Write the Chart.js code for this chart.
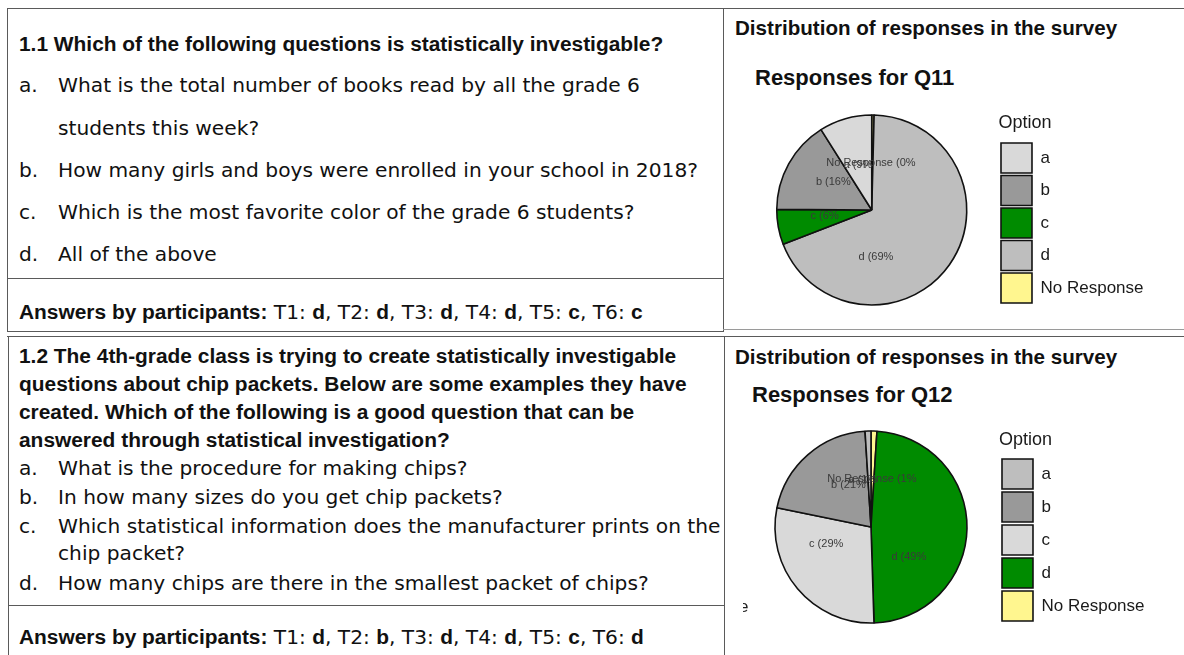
<!DOCTYPE html>
<html>
<head>
<meta charset="utf-8">
<script src="https://cdn.jsdelivr.net/npm/chart.js@4.4.1/dist/chart.umd.min.js"></script>
<style>
  body { margin: 0; width: 1184px; height: 655px; overflow: hidden; background: #fff; position: relative; color: #111; }
  .ln { position: absolute; white-space: nowrap; height: 24px; line-height: 24px; font-family: "DejaVu Sans", sans-serif; font-size: 20.2px; }
  .b { font-family: "Liberation Sans", Arial, sans-serif; font-weight: bold; font-size: 20.9px; }
  .hd { font-family: "Liberation Sans", Arial, sans-serif; font-weight: bold; font-size: 20.6px; }
  .ct { position: absolute; white-space: nowrap; height: 26px; line-height: 26px; font-family: "Liberation Sans", Arial, sans-serif; font-weight: bold; font-size: 22px; color: #111; }
  .r { position: absolute; background: #5a5a5a; }
  canvas { position: absolute; }
  .clip { position: absolute; overflow: hidden; width: 6px; height: 22px; font-family: "Liberation Sans", Arial, sans-serif; font-size: 17px; line-height: 22px; color: #222; }
</style>
</head>
<body>

<!-- table rules -->
<div class="r" style="left:7px;top:8px;width:1177px;height:1px"></div>
<div class="r" style="left:7px;top:8px;width:1px;height:324px"></div>
<div class="r" style="left:723px;top:8px;width:1px;height:324px"></div>
<div class="r" style="left:7px;top:278px;width:717px;height:1px"></div>
<div class="r" style="left:7px;top:331px;width:717px;height:1px"></div>
<div class="r" style="left:723px;top:329px;width:461px;height:1px;background:#9a9a9a"></div>
<div class="r" style="left:7px;top:336px;width:1177px;height:1px"></div>
<div class="r" style="left:8px;top:336px;width:1px;height:319px"></div>
<div class="r" style="left:724px;top:336px;width:1px;height:319px"></div>
<div class="r" style="left:8px;top:605px;width:717px;height:1px"></div>

<!-- question 1.1 -->
<div class="ln b" style="left:19px;top:32px">1.1 Which of the following questions is statistically investigable?</div>
<div class="ln" style="left:19px;top:73px">a.</div>
<div class="ln" style="left:58px;top:73px">What is the total number of books read by all the grade 6</div>
<div class="ln" style="left:58px;top:116px">students this week?</div>
<div class="ln" style="left:19px;top:158px">b.</div>
<div class="ln" style="left:58px;top:158px">How many girls and boys were enrolled in your school in 2018?</div>
<div class="ln" style="left:19px;top:200px">c.</div>
<div class="ln" style="left:58px;top:200px">Which is the most favorite color of the grade 6 students?</div>
<div class="ln" style="left:19px;top:242px">d.</div>
<div class="ln" style="left:58px;top:242px">All of the above</div>
<div class="ln" style="left:19px;top:300px"><span class="b">Answers by participants:</span> T1: <span class="b">d</span>, T2: <span class="b">d</span>, T3: <span class="b">d</span>, T4: <span class="b">d</span>, T5: <span class="b">c</span>, T6: <span class="b">c</span></div>

<!-- question 1.2 -->
<div class="ln b" style="left:19px;top:344px">1.2 The 4th-grade class is trying to create statistically investigable</div>
<div class="ln b" style="left:19px;top:372px">questions about chip packets. Below are some examples they have</div>
<div class="ln b" style="left:19px;top:400px">created. Which of the following is a good question that can be</div>
<div class="ln b" style="left:19px;top:428px">answered through statistical investigation?</div>
<div class="ln" style="left:19px;top:456px">a.</div>
<div class="ln" style="left:58px;top:456px">What is the procedure for making chips?</div>
<div class="ln" style="left:19px;top:485px">b.</div>
<div class="ln" style="left:58px;top:485px">In how many sizes do you get chip packets?</div>
<div class="ln" style="left:19px;top:514px">c.</div>
<div class="ln" style="left:58px;top:514px">Which statistical information does the manufacturer prints on the</div>
<div class="ln" style="left:58px;top:541px">chip packet?</div>
<div class="ln" style="left:19px;top:571px">d.</div>
<div class="ln" style="left:58px;top:571px">How many chips are there in the smallest packet of chips?</div>
<div class="ln" style="left:19px;top:625px"><span class="b">Answers by participants:</span> T1: <span class="b">d</span>, T2: <span class="b">b</span>, T3: <span class="b">d</span>, T4: <span class="b">d</span>, T5: <span class="b">c</span>, T6: <span class="b">d</span></div>

<!-- right column -->
<div class="ln hd" style="left:735px;top:16px">Distribution of responses in the survey</div>
<div class="ct" style="left:755px;top:65px">Responses for Q11</div>
<canvas id="q11" width="439" height="220" style="left:745px;top:100px;width:439px;height:220px"></canvas>

<div class="ln hd" style="left:735px;top:345px">Distribution of responses in the survey</div>
<div class="ct" style="left:752px;top:382px">Responses for Q12</div>
<canvas id="q12" width="441" height="220" style="left:743px;top:417px;width:441px;height:220px"></canvas>
<div class="clip" style="left:743px;top:596px"><span style="position:relative;left:-4px">e</span></div>

<script>
const optionLabels = ['a', 'b', 'c', 'd', 'No Response'];

// share of responses per option (percent)
const q11Percent = [9, 16, 6, 69, 0.4];
const q12Percent = [1, 21, 29, 49, 1];

const q11Colors = ['#D9D9D9', '#999999', '#008B00', '#BEBEBE', '#FFF68F'];
const q12Colors = ['#BEBEBE', '#999999', '#D9D9D9', '#008B00', '#FFF68F'];

// where each slice label sits, degrees clockwise from 12 o'clock (at half radius)
const q11LabelAngles = [343, 306, 263, 175, 359];
const q12LabelAngles = [350, 332, 249, 128, 1];

const FONT = '"Liberation Sans", Arial, sans-serif';
Chart.defaults.font.family = FONT;

// percent labels drawn inside the pie, e.g. "d (69%"
const sliceLabels = {
  id: 'sliceLabels',
  afterDatasetsDraw(chart) {
    const ctx = chart.ctx;
    const ds = chart.data.datasets[0];
    const meta = chart.getDatasetMeta(0);
    const total = ds.data.reduce((s, v) => s + v, 0);
    ctx.save();
    ctx.font = '11px ' + FONT;
    ctx.fillStyle = '#3a3a3a';
    ctx.textAlign = 'center';
    ctx.textBaseline = 'middle';
    for (let i = meta.data.length - 1; i >= 0; i--) {
      const arc = meta.data[i];
      const t = ds.labelAngle[i] * Math.PI / 180;
      const r = arc.outerRadius * 0.5;
      const pct = Math.round(ds.data[i] / total * 100);
      ctx.fillText(`${chart.data.labels[i]} (${pct}%`, arc.x + r * Math.sin(t), arc.y - r * Math.cos(t));
    }
    ctx.restore();
  }
};

function makePie(id, values, colors, labelAngles, radius, boxGap, titlePad, padRight) {
  // slices run counter-clockwise from the top in option order,
  // so hand Chart.js the reversed order and sort the legend back
  const order = values.map((v, i) => i).reverse();
  return new Chart(document.getElementById(id), {
    type: 'pie',
    data: {
      labels: order.map(i => optionLabels[i]),
      datasets: [{
        data: order.map(i => values[i]),
        backgroundColor: order.map(i => colors[i]),
        borderColor: '#111',
        borderWidth: 1.6,
        radius: radius,
        labelAngle: order.map(i => labelAngles[i])
      }]
    },
    options: {
      responsive: false,
      maintainAspectRatio: false,
      animation: false,
      events: [],
      layout: { padding: { top: 10, bottom: 10, left: 0, right: padRight } },
      plugins: {
        title: { display: false },
        tooltip: { enabled: false },
        legend: {
          position: 'right',
          align: 'center',
          title: {
            display: true,
            text: 'Option',
            position: 'start',
            color: '#1a1a1a',
            font: { size: 18 },
            padding: titlePad
          },
          labels: {
            boxWidth: 31,
            boxHeight: 30,
            padding: boxGap,
            color: '#1a1a1a',
            font: { size: 17 },
            sort: (a, b) => b.index - a.index
          }
        }
      }
    },
    plugins: [sliceLabels]
  });
}

makePie('q11', q11Percent, q11Colors, q11LabelAngles, 95, 2.5, { top: 0, bottom: 4.4 }, 30.5);
makePie('q12', q12Percent, q12Colors, q12LabelAngles, 96, 3, { top: 1, bottom: 3.4 }, 29.5);
</script>
</body>
</html>
